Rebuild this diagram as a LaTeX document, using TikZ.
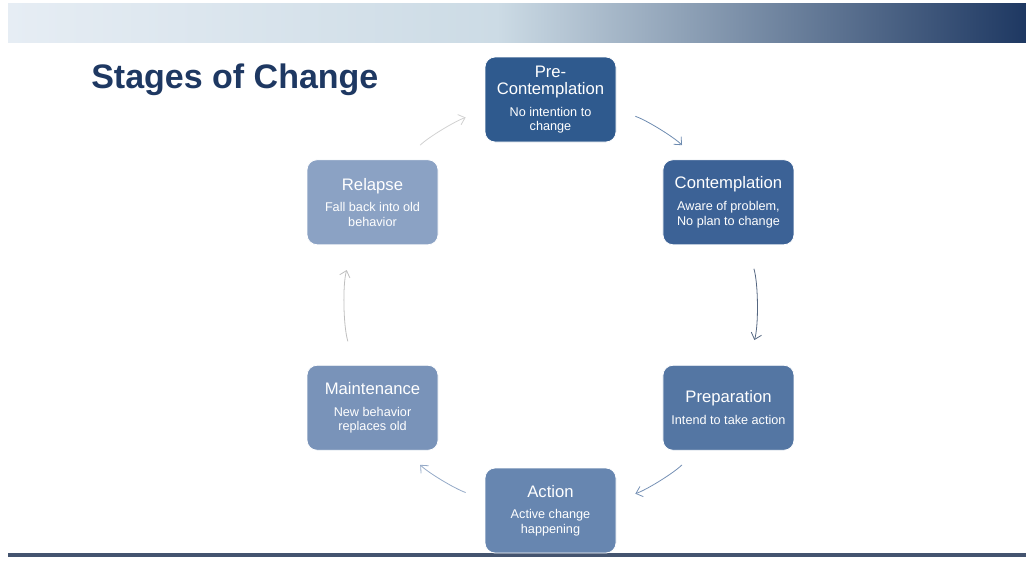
\documentclass[tikz,border=0pt]{standalone}
\usepackage{fontspec}
\setmainfont{Liberation Sans}
\usepackage[dvipsnames]{xcolor}
\usetikzlibrary{arrows.meta}

\definecolor{navy}{HTML}{1E3862}
\definecolor{barlight}{HTML}{E6EDF4}
\definecolor{barmid}{HTML}{CCDBE5}
\definecolor{rule}{HTML}{44546F}
\definecolor{stageA}{HTML}{2F5A8E}
\definecolor{stageB}{HTML}{3C6296}
\definecolor{stageC}{HTML}{5476A3}
\definecolor{stageD}{HTML}{6786B0}
\definecolor{stageE}{HTML}{7993B9}
\definecolor{stageF}{HTML}{8BA2C4}

% path spans 25bp..75bp of the shading
\pgfdeclarehorizontalshading{headerbar}{100bp}{color(0bp)=(barlight); color(25bp)=(barlight); color(49bp)=(barmid); color(75bp)=(navy); color(100bp)=(navy)}

\newcommand{\stagehead}{\fontsize{12.5}{13}\selectfont}
\newcommand{\stagesub}{\fontsize{9.5}{10.8}\selectfont}

\begin{document}
\begin{tikzpicture}[x=0.75pt,y=0.75pt,>={Straight Barb[length=4.5pt,width=8pt]},looseness=0.86,
  stage node/.style={draw=white,line width=0.6pt,rounded corners=7.5pt,minimum width=98.25pt,minimum height=63.75pt,inner sep=1pt,align=center,text=white,font=\stagesub},
  title node/.style={font=\fontsize{25.5}{28}\selectfont\bfseries,text=navy,inner sep=0pt},
  cycle arrow/.style={line width=0.6pt,shorten <=15pt,shorten >=15pt}]

    \useasboundingbox (0,0) rectangle (1026,-561);

    % header bar and footer rule
    \fill[shading=headerbar] (8,-3) rectangle (1026,-42);
    \draw[rule,line width=2.4pt] (8,-555) -- (1026,-555);

    \node[title node,anchor=base west] (title) at (91,-88.5) {Stages of Change};

    \begin{scope}[shift={(550.5,-305)}]
        \node[stage node,fill=stageA] (pre) at (90:205.5) {{\stagehead Pre-}\\[2pt]{\stagehead Contemplation}\\[5.5pt]No intention to\\change};
        \node[stage node,fill=stageB] (cont) at (30:205.5) {{\stagehead Contemplation}\\[5.5pt]Aware of problem,\\No plan to change};
        \node[stage node,fill=stageC] (prep) at (-30:205.5) {{\stagehead Preparation}\\[5.5pt]Intend to take action};
        \node[stage node,fill=stageD] (act) at (-90:205.5) {{\stagehead Action}\\[5.5pt]Active change\\happening};
        \node[stage node,fill=stageE] (maint) at (-150:205.5) {{\stagehead Maintenance}\\[5.5pt]New behavior\\replaces old};
        \node[stage node,fill=stageF] (rel) at (150:205.5) {{\stagehead Relapse}\\[5.5pt]Fall back into old\\behavior};
    \end{scope}

    \path[->,cycle arrow]
        (pre.-9.3) edge[out=-18.6,in=134.9,color=stageA!70!white] (cont.127.7)
        (prep.-127.7) edge[out=-134.9,in=18.6,color=stageC!80!white] (act.9.3)
        (act.170.7) edge[out=161.4,in=-45.1,color=stageE!80!white] (maint.-52.3)
        (rel.52.3) edge[out=45.1,in=198.6,color=black!18] (pre.-170.7)
    ;

    \path[->,cycle arrow,shorten <=18.5pt,shorten >=19.5pt]
        (cont.-67) edge[out=-73,in=72.7,color=black!30!stageE] (prep.67.4)
        (maint.112.6) edge[out=107.3,in=-107,color=black!25] (rel.-113)
    ;

\end{tikzpicture}
\end{document}
